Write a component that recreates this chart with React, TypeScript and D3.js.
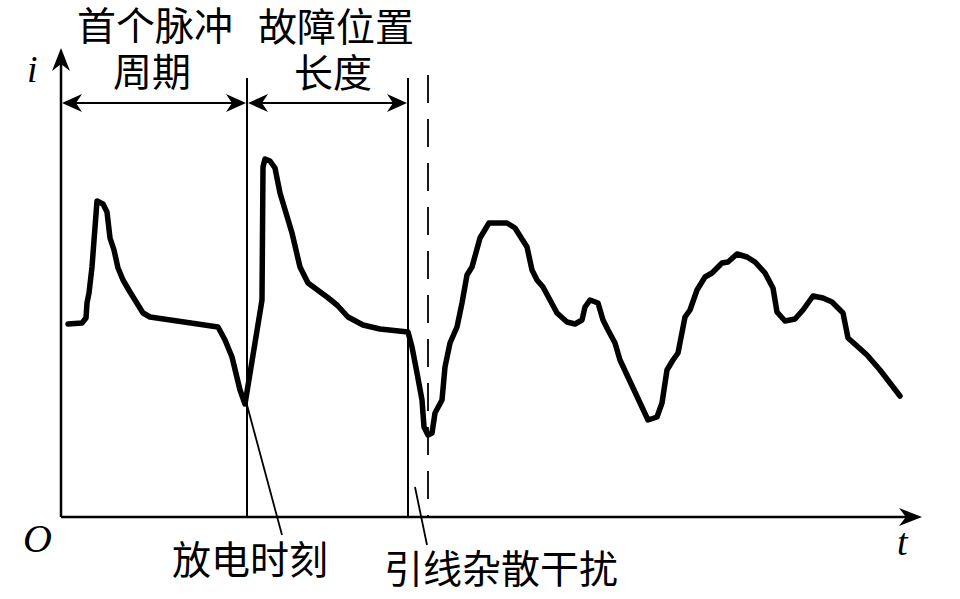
import React from "react";
import * as d3 from "d3";

// Waveform samples: t (time, arbitrary units), i (current, arbitrary units)
const waveT = [7, 21, 25, 26, 28, 31, 36, 42, 46, 49, 53, 57, 62, 69, 82, 89, 157, 164, 171, 179, 184, 201, 202, 204, 209, 214, 219, 231, 239, 247, 266, 276, 287, 302, 319, 347, 351, 356, 361, 363, 367, 371, 374, 381, 384, 389, 396, 401, 406, 411, 419, 428, 446, 454, 466, 471, 476, 482, 496, 506, 514, 521, 524, 529, 537, 542, 547, 554, 559, 587, 596, 601, 606, 612, 617, 624, 629, 636, 644, 651, 661, 667, 676, 686, 694, 704, 712, 716, 724, 734, 742, 752, 762, 771, 782, 787, 796, 806, 819, 839];
const waveI = [193, 194, 199, 214, 224, 250, 316, 313, 305, 279, 267, 249, 237, 225, 204, 200, 190, 177, 160, 127, 113, 217, 350, 358, 356, 349, 324, 284, 250, 234, 220, 212, 200, 192, 188, 185, 170, 144, 117, 90, 82, 84, 104, 117, 150, 174, 190, 214, 242, 250, 279, 294, 294, 289, 270, 247, 237, 230, 204, 195, 193, 197, 210, 217, 214, 197, 187, 174, 157, 97, 100, 114, 147, 157, 164, 200, 207, 227, 240, 244, 254, 255, 263, 260, 255, 244, 229, 205, 196, 198, 207, 221, 219, 215, 204, 179, 171, 162, 147, 121];

// Marker times (vertical lines)
const markerT = [186, 347];
const dashedT = 367;

// Labels
const periodLabel = ["首个脉冲", "周期"];
const faultLabel = ["故障位置", "长度"];
const dischargeLabel = "放电时刻";
const strayLabel = "引线杂散干扰";
const axisLabels = { y: "i", x: "t", origin: "O" };

const W = 960;
const H = 599;
const x0 = 61;
const y0 = 517;

export default function App() {
  const x = d3.scaleLinear().domain([0, 861]).range([x0, x0 + 861]);
  const y = d3.scaleLinear().domain([0, 469]).range([y0, y0 - 469]);

  const pts: [number, number][] = waveT.map((t, k) => [t, waveI[k]]);
  const line = d3
    .line<[number, number]>()
    .x((d) => x(d[0]))
    .y((d) => y(d[1]))
    .curve(d3.curveLinear);

  const xEnd = x(861);
  const yTop = y(469);
  const arrowY = 103;
  const vTop = 78;

  const head = (tx: number, ty: number, dir: "up" | "right" | "left", len = 23, hw = 9) => {
    const notch = len * 0.7;
    let p: [number, number][] = [];
    if (dir === "up") p = [[tx, ty], [tx + hw, ty + len], [tx, ty + notch], [tx - hw, ty + len]];
    if (dir === "right") p = [[tx, ty], [tx - len, ty - hw], [tx - notch, ty], [tx - len, ty + hw]];
    if (dir === "left") p = [[tx, ty], [tx + len, ty - hw], [tx + notch, ty], [tx + len, ty + hw]];
    return <path d={"M" + p.map((q) => q.join(",")).join("L") + "Z"} fill="#000" />;
  };

  const cjk = "'Noto Sans CJK SC', sans-serif";
  const serif = "'Liberation Serif', 'DejaVu Serif', serif";
  const m1 = x(markerT[0]);
  const m2 = x(markerT[1]);
  const md = x(dashedT);

  return (
    <svg width={W} height={H} style={{ position: "absolute", left: 0, top: 0, background: "#fff" }}>
      <rect width={W} height={H} fill="#fff" />
      {/* axes */}
      <line x1={x0} y1={y0} x2={xEnd - 10} y2={y0} stroke="#000" strokeWidth={2.5} />
      <line x1={x0} y1={y0} x2={x0} y2={yTop + 10} stroke="#000" strokeWidth={2.5} />
      {head(xEnd, y0, "right")}
      {head(x0, yTop, "up")}

      {/* vertical marker lines */}
      {markerT.map((t, k) => (
        <line key={k} x1={x(t)} y1={vTop} x2={x(t)} y2={y0} stroke="#000" strokeWidth={2} />
      ))}
      <line x1={md} y1={75} x2={md} y2={y0} stroke="#000" strokeWidth={1.8} strokeDasharray="28,16" />

      {/* dimension arrows */}
      <line x1={x0 + 8} y1={arrowY} x2={m1 - 8} y2={arrowY} stroke="#000" strokeWidth={2} />
      {head(x0 + 1, arrowY, "left", 20, 9)}
      {head(m1 - 1, arrowY, "right", 20, 9)}
      <line x1={m1 + 8} y1={arrowY} x2={m2 - 8} y2={arrowY} stroke="#000" strokeWidth={2} />
      {head(m1 + 1, arrowY, "left", 20, 9)}
      {head(m2 - 1, arrowY, "right", 20, 9)}

      {/* waveform */}
      <path d={line(pts) || ""} fill="none" stroke="#000" strokeWidth={5.5} strokeLinejoin="round" strokeLinecap="round" />

      {/* leader lines */}
      <line x1={247} y1={405} x2={282} y2={535} stroke="#000" strokeWidth={1.8} />
      <line x1={415} y1={487} x2={427} y2={545} stroke="#000" strokeWidth={1.8} />

      {/* texts */}
      <g fontFamily={cjk} fontSize={39} fill="#000" textAnchor="middle">
        <text x={155} y={40}>{periodLabel[0]}</text>
        <text x={152} y={86}>{periodLabel[1]}</text>
        <text x={336} y={41}>{faultLabel[0]}</text>
        <text x={333} y={87}>{faultLabel[1]}</text>
        <text x={250} y={574}>{dischargeLabel}</text>
        <text x={501} y={583}>{strayLabel}</text>
      </g>
      <g fontFamily={serif} fontStyle="italic" fill="#000">
        <text x={27} y={82} fontSize={38}>{axisLabels.y}</text>
        <text x={897} y={555} fontSize={38}>{axisLabels.x}</text>
        <text x={23} y={552} fontSize={40}>{axisLabels.origin}</text>
      </g>
    </svg>
  );
}
